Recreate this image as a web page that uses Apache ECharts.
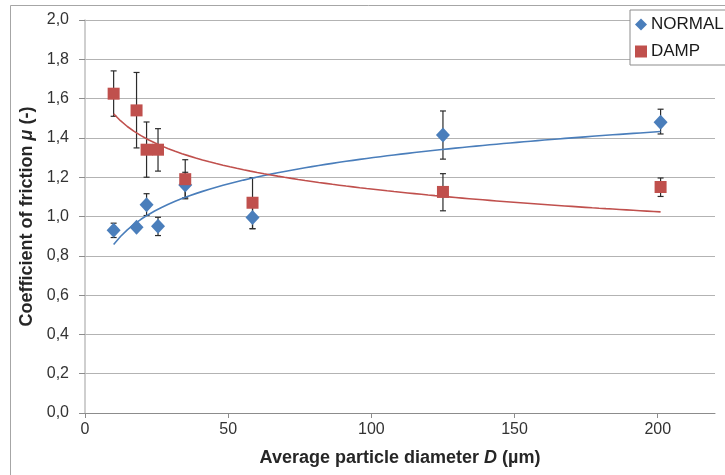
<!DOCTYPE html>
<html>
<head>
<meta charset="utf-8">
<script src="https://cdn.jsdelivr.net/npm/echarts@6/dist/echarts.min.js"></script>
<style>
  html, body { margin: 0; padding: 0; background: #fff; }
  #chart { width: 725px; height: 475px; }
</style>
</head>
<body>
<div id="chart"></div>
<script>
// Average particle diameter D (µm)
const diameters = [10, 18, 21.5, 25.5, 35, 58.5, 125, 201];

// Coefficient of friction, NORMAL condition (mean, lower, upper)
const normalMu   = [0.93, 0.945, 1.06, 0.95, 1.16, 0.995, 1.415, 1.48];
const normalLow  = [0.893, 0.93, 1.005, 0.903, 1.095, 0.938, 1.292, 1.42];
const normalHigh = [0.966, 0.96, 1.116, 0.996, 1.225, 1.05, 1.537, 1.546];

// Coefficient of friction, DAMP condition (mean, lower, upper)
const dampMu   = [1.625, 1.54, 1.34, 1.34, 1.19, 1.07, 1.125, 1.15];
const dampLow  = [1.51, 1.349, 1.2, 1.231, 1.09, 0.938, 1.029, 1.102];
const dampHigh = [1.741, 1.733, 1.481, 1.447, 1.289, 1.198, 1.218, 1.196];

// Axis ticks
const xTicks = [0, 50, 100, 150, 200];

const BLUE = '#4a7ebb';
const RED = '#c0504d';
const FONT = '"Liberation Sans", Arial, sans-serif';

// Least-squares logarithmic trend y = a*ln(x) + b over the measured points
function logTrend(xs, ys, steps) {
  const lx = xs.map(Math.log);
  const n = xs.length;
  const mx = lx.reduce((s, v) => s + v, 0) / n;
  const my = ys.reduce((s, v) => s + v, 0) / n;
  let sxy = 0, sxx = 0;
  for (let i = 0; i < n; i++) {
    sxy += (lx[i] - mx) * (ys[i] - my);
    sxx += (lx[i] - mx) * (lx[i] - mx);
  }
  const a = sxy / sxx, b = my - a * mx;
  const x0 = Math.min(...xs), x1 = Math.max(...xs);
  const pts = [];
  for (let i = 0; i <= steps; i++) {
    const x = x0 + (x1 - x0) * i / steps;
    pts.push([x, a * Math.log(x) + b]);
  }
  return pts;
}

function pairs(xs, ys) { return xs.map((x, i) => [x, ys[i]]); }
function bars(xs, lo, hi) { return xs.map((x, i) => [x, lo[i], hi[i]]); }

function errorBarItem(params, api) {
  const x = api.value(0);
  const top = api.coord([x, api.value(2)]);
  const bot = api.coord([x, api.value(1)]);
  const cap = 3;
  const style = { stroke: '#2b2b2b', lineWidth: 1.2 };
  return {
    type: 'group',
    children: [
      { type: 'line', shape: { x1: top[0], y1: top[1], x2: bot[0], y2: bot[1] }, style },
      { type: 'line', shape: { x1: top[0] - cap, y1: top[1], x2: top[0] + cap, y2: top[1] }, style },
      { type: 'line', shape: { x1: bot[0] - cap, y1: bot[1], x2: bot[0] + cap, y2: bot[1] }, style }
    ]
  };
}

const titleStyle = {
  fontFamily: FONT, fontSize: 18, fontWeight: 'bold', color: '#262626',
  rich: { i: { fontFamily: FONT, fontSize: 18, fontWeight: 'bold', fontStyle: 'italic', color: '#262626' } }
};

const chart = echarts.init(document.getElementById('chart'), null, { renderer: 'canvas' });

chart.setOption({
  backgroundColor: '#fff',
  animation: false,
  textStyle: { fontFamily: FONT },
  graphic: [{
    type: 'rect',
    silent: true,
    shape: { x: 10.5, y: 5.5, width: 800, height: 600 },
    style: { fill: 'none', stroke: '#a6a6a6', lineWidth: 1 },
    z: -10
  }],
  grid: { left: 85, right: 10, top: 20, bottom: 62 },
  legend: {
    orient: 'vertical',
    left: 630,
    top: 10,
    data: [
      { name: 'NORMAL', icon: 'diamond', itemStyle: { color: BLUE } },
      { name: 'DAMP', icon: 'rect', itemStyle: { color: RED } }
    ],
    itemWidth: 12,
    itemHeight: 12,
    itemGap: 10,
    padding: [6, 12, 5, 5],
    borderColor: '#8c8c8c',
    borderWidth: 1,
    backgroundColor: '#fff',
    textStyle: { fontFamily: FONT, fontSize: 17, color: '#1a1a1a', padding: [0, 0, 0, -1] }
  },
  xAxis: {
    type: 'value',
    min: 0,
    max: 220,
    interval: 50,
    name: 'Average particle diameter {i|D} (µm)',
    nameLocation: 'middle',
    nameGap: 36,
    nameTextStyle: titleStyle,
    axisLine: { show: true, onZero: false, lineStyle: { color: '#8c8c8c', width: 1 } },
    axisTick: { show: true, length: 5, customValues: xTicks, lineStyle: { color: '#8c8c8c' } },
    axisLabel: { customValues: xTicks, margin: 9, fontFamily: FONT, fontSize: 16, color: '#333' },
    splitLine: { show: false }
  },
  yAxis: {
    type: 'value',
    min: 0,
    max: 2,
    interval: 0.2,
    name: 'Coefficient of friction {i|μ} (-)',
    nameLocation: 'middle',
    nameGap: 43,
    nameTextStyle: titleStyle,
    axisLine: { show: true, lineStyle: { color: '#bfbfbf', width: 1.5 } },
    axisTick: { show: true, inside: false, length: 6, lineStyle: { color: '#8c8c8c' } },
    axisLabel: {
      margin: 16, fontFamily: FONT, fontSize: 16, color: '#333',
      formatter: v => v.toFixed(1).replace('.', ',')
    },
    splitLine: { show: true, lineStyle: { color: '#b3b3b3', width: 1.2 } }
  },
  series: [
    {
      name: 'NORMAL error',
      type: 'custom',
      renderItem: errorBarItem,
      data: bars(diameters, normalLow, normalHigh),
      z: 1,
      silent: true
    },
    {
      name: 'DAMP error',
      type: 'custom',
      renderItem: errorBarItem,
      data: bars(diameters, dampLow, dampHigh),
      z: 1,
      silent: true
    },
    {
      name: 'NORMAL trend',
      type: 'line',
      data: logTrend(diameters, normalMu, 80),
      showSymbol: false,
      lineStyle: { color: BLUE, width: 1.6 },
      z: 2,
      silent: true
    },
    {
      name: 'DAMP trend',
      type: 'line',
      data: logTrend(diameters, dampMu, 80),
      showSymbol: false,
      lineStyle: { color: RED, width: 1.6 },
      z: 2,
      silent: true
    },
    {
      name: 'NORMAL',
      type: 'scatter',
      data: pairs(diameters, normalMu),
      symbol: 'diamond',
      symbolSize: [14, 15],
      itemStyle: { color: BLUE, opacity: 1 },
      z: 3
    },
    {
      name: 'DAMP',
      type: 'scatter',
      data: pairs(diameters, dampMu),
      symbol: 'rect',
      symbolSize: 12,
      itemStyle: { color: RED, opacity: 1 },
      z: 4
    }
  ]
});
</script>
</body>
</html>
